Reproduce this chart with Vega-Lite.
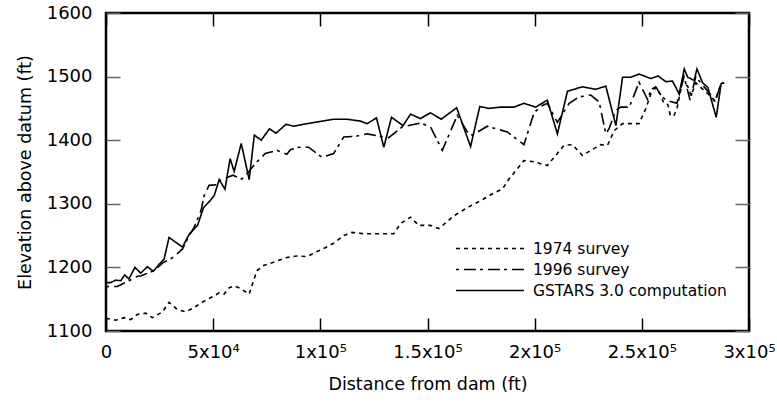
{
  "$schema": "https://vega.github.io/schema/vega-lite/v6.json",
  "width": 643,
  "height": 318,
  "autosize": {"type": "none"},
  "padding": {"left": 106, "top": 13, "right": 28, "bottom": 76},
  "background": "white",
  "config": {
    "font": "DejaVu Sans",
    "view": {"stroke": "black", "strokeWidth": 2.5},
    "axis": {"grid": false, "domain": false, "labelFont": "DejaVu Sans", "titleFont": "DejaVu Sans", "labelColor": "black", "titleColor": "black", "titleFontWeight": "normal"}
  },
  "datasets": {
    "lines": [
      {"s": "GSTARS 3.0 computation", "x": 0, "e": 1176},
      {"s": "GSTARS 3.0 computation", "x": 2200, "e": 1176},
      {"s": "GSTARS 3.0 computation", "x": 4500, "e": 1180},
      {"s": "GSTARS 3.0 computation", "x": 6900, "e": 1179},
      {"s": "GSTARS 3.0 computation", "x": 8700, "e": 1188},
      {"s": "GSTARS 3.0 computation", "x": 10700, "e": 1182},
      {"s": "GSTARS 3.0 computation", "x": 13500, "e": 1200},
      {"s": "GSTARS 3.0 computation", "x": 16200, "e": 1191},
      {"s": "GSTARS 3.0 computation", "x": 19300, "e": 1201},
      {"s": "GSTARS 3.0 computation", "x": 22100, "e": 1194},
      {"s": "GSTARS 3.0 computation", "x": 24800, "e": 1205},
      {"s": "GSTARS 3.0 computation", "x": 27100, "e": 1213},
      {"s": "GSTARS 3.0 computation", "x": 29400, "e": 1247},
      {"s": "GSTARS 3.0 computation", "x": 35700, "e": 1232},
      {"s": "GSTARS 3.0 computation", "x": 38800, "e": 1252},
      {"s": "GSTARS 3.0 computation", "x": 42700, "e": 1266},
      {"s": "GSTARS 3.0 computation", "x": 45500, "e": 1294},
      {"s": "GSTARS 3.0 computation", "x": 48600, "e": 1305},
      {"s": "GSTARS 3.0 computation", "x": 50500, "e": 1313},
      {"s": "GSTARS 3.0 computation", "x": 52800, "e": 1338},
      {"s": "GSTARS 3.0 computation", "x": 55500, "e": 1323},
      {"s": "GSTARS 3.0 computation", "x": 57900, "e": 1371},
      {"s": "GSTARS 3.0 computation", "x": 59800, "e": 1351},
      {"s": "GSTARS 3.0 computation", "x": 63100, "e": 1395},
      {"s": "GSTARS 3.0 computation", "x": 66800, "e": 1338},
      {"s": "GSTARS 3.0 computation", "x": 69200, "e": 1408},
      {"s": "GSTARS 3.0 computation", "x": 72400, "e": 1400},
      {"s": "GSTARS 3.0 computation", "x": 76300, "e": 1418},
      {"s": "GSTARS 3.0 computation", "x": 79300, "e": 1411},
      {"s": "GSTARS 3.0 computation", "x": 84000, "e": 1425},
      {"s": "GSTARS 3.0 computation", "x": 87500, "e": 1422},
      {"s": "GSTARS 3.0 computation", "x": 93800, "e": 1426},
      {"s": "GSTARS 3.0 computation", "x": 106200, "e": 1433},
      {"s": "GSTARS 3.0 computation", "x": 112500, "e": 1433},
      {"s": "GSTARS 3.0 computation", "x": 118700, "e": 1430},
      {"s": "GSTARS 3.0 computation", "x": 121800, "e": 1426},
      {"s": "GSTARS 3.0 computation", "x": 126200, "e": 1435},
      {"s": "GSTARS 3.0 computation", "x": 129600, "e": 1389},
      {"s": "GSTARS 3.0 computation", "x": 133200, "e": 1436},
      {"s": "GSTARS 3.0 computation", "x": 138600, "e": 1423},
      {"s": "GSTARS 3.0 computation", "x": 142100, "e": 1441},
      {"s": "GSTARS 3.0 computation", "x": 146700, "e": 1434},
      {"s": "GSTARS 3.0 computation", "x": 151400, "e": 1443},
      {"s": "GSTARS 3.0 computation", "x": 156400, "e": 1433},
      {"s": "GSTARS 3.0 computation", "x": 163600, "e": 1451},
      {"s": "GSTARS 3.0 computation", "x": 170100, "e": 1390},
      {"s": "GSTARS 3.0 computation", "x": 174400, "e": 1453},
      {"s": "GSTARS 3.0 computation", "x": 178600, "e": 1450},
      {"s": "GSTARS 3.0 computation", "x": 184100, "e": 1452},
      {"s": "GSTARS 3.0 computation", "x": 190300, "e": 1452},
      {"s": "GSTARS 3.0 computation", "x": 195000, "e": 1458},
      {"s": "GSTARS 3.0 computation", "x": 200500, "e": 1452},
      {"s": "GSTARS 3.0 computation", "x": 205900, "e": 1463},
      {"s": "GSTARS 3.0 computation", "x": 210600, "e": 1410},
      {"s": "GSTARS 3.0 computation", "x": 215300, "e": 1477},
      {"s": "GSTARS 3.0 computation", "x": 222300, "e": 1484},
      {"s": "GSTARS 3.0 computation", "x": 228500, "e": 1480},
      {"s": "GSTARS 3.0 computation", "x": 233200, "e": 1485},
      {"s": "GSTARS 3.0 computation", "x": 237900, "e": 1423},
      {"s": "GSTARS 3.0 computation", "x": 241000, "e": 1499},
      {"s": "GSTARS 3.0 computation", "x": 244900, "e": 1499},
      {"s": "GSTARS 3.0 computation", "x": 248700, "e": 1504},
      {"s": "GSTARS 3.0 computation", "x": 254200, "e": 1497},
      {"s": "GSTARS 3.0 computation", "x": 257600, "e": 1501},
      {"s": "GSTARS 3.0 computation", "x": 261200, "e": 1492},
      {"s": "GSTARS 3.0 computation", "x": 264300, "e": 1493},
      {"s": "GSTARS 3.0 computation", "x": 267400, "e": 1473},
      {"s": "GSTARS 3.0 computation", "x": 269800, "e": 1512},
      {"s": "GSTARS 3.0 computation", "x": 271400, "e": 1499},
      {"s": "GSTARS 3.0 computation", "x": 274400, "e": 1494},
      {"s": "GSTARS 3.0 computation", "x": 275700, "e": 1512},
      {"s": "GSTARS 3.0 computation", "x": 278400, "e": 1490},
      {"s": "GSTARS 3.0 computation", "x": 280800, "e": 1483},
      {"s": "GSTARS 3.0 computation", "x": 284700, "e": 1436},
      {"s": "GSTARS 3.0 computation", "x": 287000, "e": 1489},
      {"s": "GSTARS 3.0 computation", "x": 288500, "e": 1490},

      {"s": "1996 survey", "x": 0, "e": 1170},
      {"s": "1996 survey", "x": 5300, "e": 1170},
      {"s": "1996 survey", "x": 7600, "e": 1174},
      {"s": "1996 survey", "x": 10700, "e": 1179},
      {"s": "1996 survey", "x": 14600, "e": 1186},
      {"s": "1996 survey", "x": 16500, "e": 1187},
      {"s": "1996 survey", "x": 22400, "e": 1195},
      {"s": "1996 survey", "x": 26800, "e": 1208},
      {"s": "1996 survey", "x": 29400, "e": 1212},
      {"s": "1996 survey", "x": 31800, "e": 1217},
      {"s": "1996 survey", "x": 35700, "e": 1229},
      {"s": "1996 survey", "x": 38800, "e": 1250},
      {"s": "1996 survey", "x": 41100, "e": 1263},
      {"s": "1996 survey", "x": 44300, "e": 1289},
      {"s": "1996 survey", "x": 45800, "e": 1313},
      {"s": "1996 survey", "x": 48100, "e": 1329},
      {"s": "1996 survey", "x": 51300, "e": 1330},
      {"s": "1996 survey", "x": 53300, "e": 1337},
      {"s": "1996 survey", "x": 59200, "e": 1345},
      {"s": "1996 survey", "x": 63400, "e": 1339},
      {"s": "1996 survey", "x": 65700, "e": 1347},
      {"s": "1996 survey", "x": 69600, "e": 1363},
      {"s": "1996 survey", "x": 74300, "e": 1379},
      {"s": "1996 survey", "x": 79800, "e": 1384},
      {"s": "1996 survey", "x": 84400, "e": 1378},
      {"s": "1996 survey", "x": 86000, "e": 1385},
      {"s": "1996 survey", "x": 89900, "e": 1389},
      {"s": "1996 survey", "x": 94500, "e": 1389},
      {"s": "1996 survey", "x": 100800, "e": 1373},
      {"s": "1996 survey", "x": 106200, "e": 1379},
      {"s": "1996 survey", "x": 110900, "e": 1405},
      {"s": "1996 survey", "x": 116400, "e": 1406},
      {"s": "1996 survey", "x": 121800, "e": 1410},
      {"s": "1996 survey", "x": 128000, "e": 1406},
      {"s": "1996 survey", "x": 131900, "e": 1404},
      {"s": "1996 survey", "x": 138200, "e": 1421},
      {"s": "1996 survey", "x": 146700, "e": 1427},
      {"s": "1996 survey", "x": 151400, "e": 1421},
      {"s": "1996 survey", "x": 156900, "e": 1384},
      {"s": "1996 survey", "x": 163900, "e": 1439},
      {"s": "1996 survey", "x": 168600, "e": 1413},
      {"s": "1996 survey", "x": 170900, "e": 1408},
      {"s": "1996 survey", "x": 177900, "e": 1422},
      {"s": "1996 survey", "x": 187200, "e": 1413},
      {"s": "1996 survey", "x": 195000, "e": 1393},
      {"s": "1996 survey", "x": 199700, "e": 1443},
      {"s": "1996 survey", "x": 202800, "e": 1453},
      {"s": "1996 survey", "x": 205900, "e": 1458},
      {"s": "1996 survey", "x": 210600, "e": 1428},
      {"s": "1996 survey", "x": 216100, "e": 1458},
      {"s": "1996 survey", "x": 220700, "e": 1468},
      {"s": "1996 survey", "x": 226200, "e": 1471},
      {"s": "1996 survey", "x": 230100, "e": 1460},
      {"s": "1996 survey", "x": 233200, "e": 1410},
      {"s": "1996 survey", "x": 234700, "e": 1418},
      {"s": "1996 survey", "x": 237900, "e": 1447},
      {"s": "1996 survey", "x": 240200, "e": 1452},
      {"s": "1996 survey", "x": 244100, "e": 1452},
      {"s": "1996 survey", "x": 245700, "e": 1465},
      {"s": "1996 survey", "x": 248700, "e": 1491},
      {"s": "1996 survey", "x": 252700, "e": 1464},
      {"s": "1996 survey", "x": 254200, "e": 1479},
      {"s": "1996 survey", "x": 256500, "e": 1484},
      {"s": "1996 survey", "x": 258900, "e": 1471},
      {"s": "1996 survey", "x": 261200, "e": 1463},
      {"s": "1996 survey", "x": 266400, "e": 1458},
      {"s": "1996 survey", "x": 269700, "e": 1500},
      {"s": "1996 survey", "x": 272500, "e": 1463},
      {"s": "1996 survey", "x": 275200, "e": 1500},
      {"s": "1996 survey", "x": 278000, "e": 1488},
      {"s": "1996 survey", "x": 281300, "e": 1475},
      {"s": "1996 survey", "x": 284100, "e": 1460},
      {"s": "1996 survey", "x": 286900, "e": 1488},
      {"s": "1996 survey", "x": 287900, "e": 1491},

      {"s": "1974 survey", "x": 0, "e": 1120},
      {"s": "1974 survey", "x": 4500, "e": 1117},
      {"s": "1974 survey", "x": 8400, "e": 1121},
      {"s": "1974 survey", "x": 11500, "e": 1118},
      {"s": "1974 survey", "x": 14600, "e": 1126},
      {"s": "1974 survey", "x": 18600, "e": 1128},
      {"s": "1974 survey", "x": 21600, "e": 1121},
      {"s": "1974 survey", "x": 26300, "e": 1130},
      {"s": "1974 survey", "x": 29400, "e": 1145},
      {"s": "1974 survey", "x": 33300, "e": 1134},
      {"s": "1974 survey", "x": 37200, "e": 1130},
      {"s": "1974 survey", "x": 41100, "e": 1137},
      {"s": "1974 survey", "x": 45800, "e": 1147},
      {"s": "1974 survey", "x": 49700, "e": 1154},
      {"s": "1974 survey", "x": 52800, "e": 1160},
      {"s": "1974 survey", "x": 55100, "e": 1158},
      {"s": "1974 survey", "x": 57500, "e": 1168},
      {"s": "1974 survey", "x": 59800, "e": 1171},
      {"s": "1974 survey", "x": 62600, "e": 1167},
      {"s": "1974 survey", "x": 66800, "e": 1158},
      {"s": "1974 survey", "x": 70400, "e": 1195},
      {"s": "1974 survey", "x": 73500, "e": 1203},
      {"s": "1974 survey", "x": 78200, "e": 1208},
      {"s": "1974 survey", "x": 83600, "e": 1215},
      {"s": "1974 survey", "x": 89100, "e": 1218},
      {"s": "1974 survey", "x": 93800, "e": 1217},
      {"s": "1974 survey", "x": 98500, "e": 1225},
      {"s": "1974 survey", "x": 102300, "e": 1231},
      {"s": "1974 survey", "x": 106200, "e": 1238},
      {"s": "1974 survey", "x": 110900, "e": 1250},
      {"s": "1974 survey", "x": 114800, "e": 1255},
      {"s": "1974 survey", "x": 120200, "e": 1253},
      {"s": "1974 survey", "x": 127200, "e": 1253},
      {"s": "1974 survey", "x": 134300, "e": 1253},
      {"s": "1974 survey", "x": 137400, "e": 1269},
      {"s": "1974 survey", "x": 142100, "e": 1279},
      {"s": "1974 survey", "x": 145900, "e": 1266},
      {"s": "1974 survey", "x": 151400, "e": 1266},
      {"s": "1974 survey", "x": 155300, "e": 1261},
      {"s": "1974 survey", "x": 162300, "e": 1281},
      {"s": "1974 survey", "x": 168600, "e": 1294},
      {"s": "1974 survey", "x": 174800, "e": 1305},
      {"s": "1974 survey", "x": 181000, "e": 1317},
      {"s": "1974 survey", "x": 184900, "e": 1323},
      {"s": "1974 survey", "x": 188000, "e": 1339},
      {"s": "1974 survey", "x": 191900, "e": 1355},
      {"s": "1974 survey", "x": 195000, "e": 1368},
      {"s": "1974 survey", "x": 199700, "e": 1366},
      {"s": "1974 survey", "x": 205900, "e": 1360},
      {"s": "1974 survey", "x": 209800, "e": 1376},
      {"s": "1974 survey", "x": 213700, "e": 1392},
      {"s": "1974 survey", "x": 217600, "e": 1393},
      {"s": "1974 survey", "x": 222300, "e": 1376},
      {"s": "1974 survey", "x": 226200, "e": 1384},
      {"s": "1974 survey", "x": 230800, "e": 1393},
      {"s": "1974 survey", "x": 234000, "e": 1392},
      {"s": "1974 survey", "x": 237100, "e": 1415},
      {"s": "1974 survey", "x": 241000, "e": 1426},
      {"s": "1974 survey", "x": 245700, "e": 1426},
      {"s": "1974 survey", "x": 248700, "e": 1426},
      {"s": "1974 survey", "x": 251900, "e": 1450},
      {"s": "1974 survey", "x": 255000, "e": 1481},
      {"s": "1974 survey", "x": 256500, "e": 1481},
      {"s": "1974 survey", "x": 258900, "e": 1471},
      {"s": "1974 survey", "x": 260200, "e": 1458},
      {"s": "1974 survey", "x": 262100, "e": 1456},
      {"s": "1974 survey", "x": 263300, "e": 1439},
      {"s": "1974 survey", "x": 264900, "e": 1438},
      {"s": "1974 survey", "x": 266400, "e": 1450},
      {"s": "1974 survey", "x": 267500, "e": 1468},
      {"s": "1974 survey", "x": 269000, "e": 1492},
      {"s": "1974 survey", "x": 271400, "e": 1485},
      {"s": "1974 survey", "x": 272900, "e": 1470},
      {"s": "1974 survey", "x": 275200, "e": 1490},
      {"s": "1974 survey", "x": 278500, "e": 1480},
      {"s": "1974 survey", "x": 281800, "e": 1470},
      {"s": "1974 survey", "x": 284100, "e": 1462},
      {"s": "1974 survey", "x": 286900, "e": 1488},
      {"s": "1974 survey", "x": 287900, "e": 1491}
    ]
  },
  "data": {"name": "lines"},
  "layer": [
    {
      "mark": {"type": "line", "color": "black", "strokeWidth": 1.6, "clip": true},
      "encoding": {
        "x": {
          "field": "x", "type": "quantitative",
          "scale": {"domain": [0, 300000], "nice": false},
          "axis": {
            "orient": "bottom",
            "title": "Distance from dam (ft)",
            "titleFontSize": 17.5, "titlePadding": 14,
            "values": [0, 50000, 100000, 150000, 200000, 250000, 300000],
            "labelExpr": "datum.value == 0 ? '0' : datum.value == 50000 ? '5x10⁴' : datum.value == 100000 ? '1x10⁵' : datum.value == 150000 ? '1.5x10⁵' : datum.value == 200000 ? '2x10⁵' : datum.value == 250000 ? '2.5x10⁵' : '3x10⁵'",
            "labelFontSize": 18, "labelFlush": false, "labelOverlap": false,
            "tickSize": -13, "tickColor": "black", "tickWidth": 1.5, "labelPadding": 25
          }
        },
        "y": {
          "field": "e", "type": "quantitative",
          "scale": {"domain": [1100, 1600], "nice": false, "zero": false},
          "axis": {
            "orient": "left",
            "title": "Elevation above datum (ft)",
            "titleFontSize": 17.5, "titlePadding": 12,
            "format": "d",
            "values": [1100, 1200, 1300, 1400, 1500, 1600],
            "labelFontSize": 18, "labelFlush": false, "labelOverlap": false,
            "tickSize": -14, "tickColor": "#666", "tickWidth": 1.5, "labelPadding": 28
          }
        },
        "strokeDash": {
          "field": "s", "type": "nominal",
          "scale": {
            "domain": ["1974 survey", "1996 survey", "GSTARS 3.0 computation"],
            "range": [[4, 4], [3, 5, 12, 4], [1, 0]]
          },
          "legend": {
            "title": null,
            "orient": "none",
            "legendX": 349,
            "legendY": 225,
            "symbolType": "stroke",
            "symbolSize": 4624,
            "symbolStrokeColor": "black",
            "symbolStrokeWidth": 1.5,
            "clipHeight": 21,
            "rowPadding": 0,
            "labelFontSize": 15.5,
            "labelFont": "DejaVu Sans",
            "labelColor": "black",
            "labelOffset": 8,
            "labelLimit": 400,
            "padding": 0
          }
        }
      }
    },
    {
      "mark": {"type": "line", "opacity": 0},
      "encoding": {
        "x": {
          "field": "x", "type": "quantitative",
          "scale": {"domain": [0, 300000], "nice": false},
          "axis": {"orient": "top", "title": null, "labels": false, "values": [0, 50000, 100000, 150000, 200000, 250000, 300000], "tickSize": -13, "tickColor": "black", "tickWidth": 1.5}
        },
        "y": {
          "field": "e", "type": "quantitative",
          "scale": {"domain": [1100, 1600], "nice": false, "zero": false},
          "axis": {"orient": "right", "title": null, "labels": false, "values": [1100, 1200, 1300, 1400, 1500, 1600], "tickSize": -14, "tickColor": "#666", "tickWidth": 1.5}
        },
        "detail": {"field": "s"}
      }
    }
  ],
  "resolve": {"axis": {"x": "independent", "y": "independent"}}
}
